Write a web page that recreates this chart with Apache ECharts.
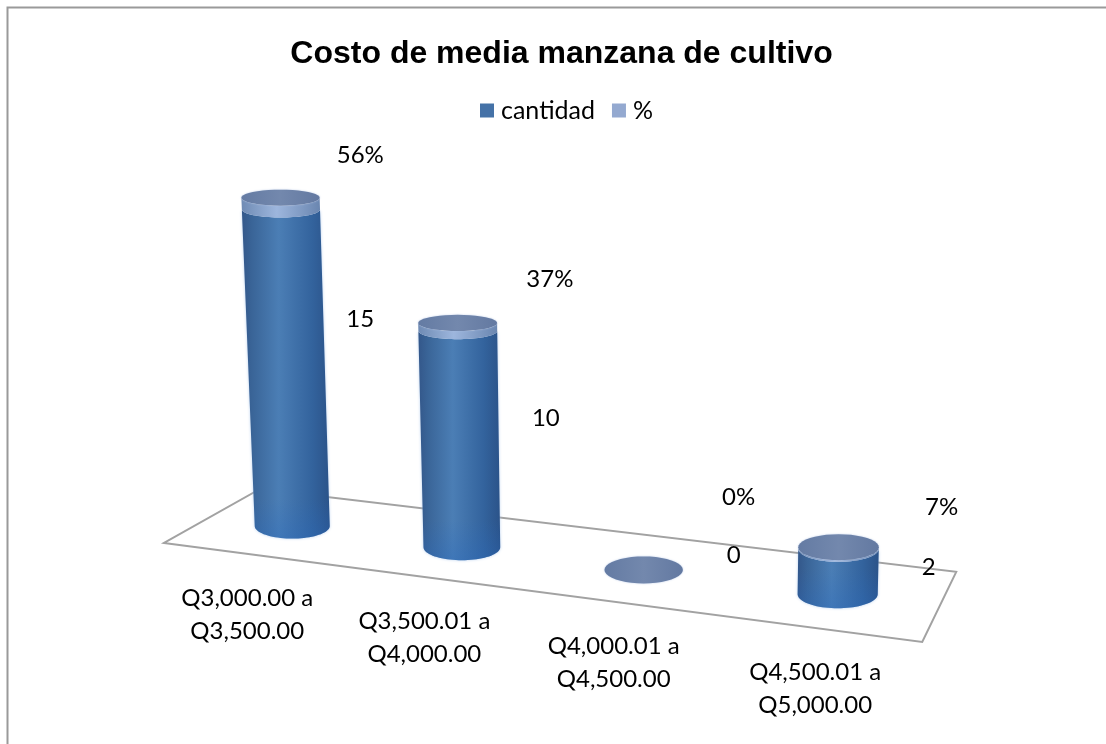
<!DOCTYPE html>
<html>
<head>
<meta charset="utf-8">
<style>html,body{margin:0;padding:0;background:#fff}#chart{width:1106px;height:744px}</style>
<script src="https://cdn.jsdelivr.net/npm/echarts@6/dist/echarts.min.js"></script>
</head>
<body>
<div id="chart"></div>
<script>
const titleText = 'Costo de media manzana de cultivo';
const categories = ['Q3,000.00 a\nQ3,500.00', 'Q3,500.01 a\nQ4,000.00', 'Q4,000.01 a\nQ4,500.00', 'Q4,500.01 a\nQ5,000.00'];
const cantidad = [15, 10, 0, 2];
const porcentaje = [0.56, 0.37, 0, 0.07];
const seriesNames = ['cantidad', '%'];

// hand-placed data label nudges, relative to each bar's foot on the floor
const cantidadNudge = [[68, -207], [84, -129], [90, -15], [91, -27]];
const porcentajeNudge = [[68, -371], [88, -268], [95, -73], [104, -87]];

const FONT = 'Lato, Carlito, "Noto Sans", sans-serif';
const grad = echarts.graphic.LinearGradient;

// Oblique view of the chart's floor, applied to what the axes return
function view(api) {
  const o = api.coord([0, 0]), step = api.coord([1, 0])[0] - o[0];
  const footX = u => o[0] - 9 + step * u * (0.896 + 0.0334 * u);
  const foot = u => { const x = footX(u); return [x, o[1] + (x - footX(0)) * 0.125]; };
  const depth = u => { const t = (u + 0.5) / 4; return [48 - 31 * t, -27 - 8 * t]; };
  const unit = (o[1] - api.coord([0, 1])[1]);
  // position of the ring at height v above the foot of category u
  const ring = (u, v) => {
    const f = foot(u), h = v * unit * (1 + 0.025 * u);
    const cx = f[0] + (f[0] - 650) * 0.0001 * h, cy = f[1] - h;
    return { cx, cy, rx: 37.5 + 0.85 * u + h * 0.005, ry: 8 + Math.max(0, cy - 320) * 0.022 };
  };
  return { foot, depth, ring };
}
function arc(r, a0, a1) {
  const pts = [];
  for (let k = 0; k <= 40; k++) {
    const a = a0 + (a1 - a0) * k / 40;
    pts.push([r.cx + r.rx * Math.cos(a), r.cy + r.ry * Math.sin(a)]);
  }
  return pts;
}
function sidePoints(lo, hi) {
  return arc(lo, Math.PI, 0).concat(arc(hi, 0, Math.PI));
}
const poly = (points, fill, extra) => ({ type: 'polygon', shape: { points }, style: Object.assign({ fill }, extra || {}), silent: true });
const label = (text, x, y, lh) => ({
  type: 'text', silent: true, z2: 20,
  style: { text, x, y, fill: '#000', fontFamily: FONT, fontSize: 24, lineHeight: lh || 28, textAlign: 'center', textVerticalAlign: 'middle' }
});

const bodyFill = () => new grad(0, 0, 1, 0, [
  { offset: 0, color: '#33578a' }, { offset: 0.12, color: '#3a6598' }, { offset: 0.42, color: '#4b7eb5' },
  { offset: 0.8, color: '#33639d' }, { offset: 1, color: '#2b5389' }]);
const bandFill = () => new grad(0, 0, 1, 0, [
  { offset: 0, color: '#6f8bb4' }, { offset: 0.45, color: '#9db6dd' }, { offset: 1, color: '#6a86b0' }]);

function renderFloor(params, api) {
  const v = view(api);
  const corner = (u, s) => { const f = v.foot(u), d = v.depth(u); return [f[0] + s * d[0], f[1] + s * d[1]]; };
  return poly([corner(-0.5, -1), corner(3.5, -1), corner(3.5, 1), corner(-0.5, 1)], 'none',
    { stroke: '#a2a2a2', lineWidth: 2 });
}
function renderCantidad(params, api) {
  const u = api.value(0), val = api.value(1), v = view(api);
  const lo = v.ring(u, 0), hi = v.ring(u, val), f = v.foot(u), children = [];
  if (val > 0) {
    const pts = sidePoints(lo, hi);
    children.push(poly(pts, bodyFill(), { shadowBlur: 3, shadowColor: 'rgba(150,185,230,0.7)' }));
    children.push(poly(pts, new grad(0, 0, 0, 1, [
      { offset: 0, color: 'rgba(40,105,190,0)' }, { offset: Math.max(0, 1 - 40 / (lo.cy - hi.cy + lo.ry)), color: 'rgba(40,105,190,0)' },
      { offset: 1, color: 'rgba(40,105,190,0.35)' }])));
  }
  const n = cantidadNudge[u];
  children.push(label(String(val), f[0] + n[0], f[1] + n[1]));
  children.push(label(categories[u], f[0] - 45 + 7.5 * u, f[1] + 89 + 2 * u, 33));
  return { type: 'group', children };
}
function renderPorcentaje(params, api) {
  const u = api.value(0), base = api.value(1), val = api.value(2), v = view(api);
  const lo = v.ring(u, base), hi = v.ring(u, base + val), f = v.foot(u), children = [];
  if (val > 0) children.push(poly(sidePoints(lo, hi), bandFill()));
  children.push(poly(arc(hi, 0, Math.PI * 2), new grad(0, 0, 1, 0, [
    { offset: 0, color: '#647ba3' }, { offset: 0.5, color: '#7388ad' }, { offset: 1, color: '#6379a1' }]),
    { shadowBlur: 2, shadowColor: 'rgba(170,190,225,0.8)' }));
  const n = porcentajeNudge[u];
  children.push(label(Math.round(val * 100) + '%', f[0] + n[0], f[1] + n[1]));
  return { type: 'group', children };
}

const chart = echarts.init(document.getElementById('chart'));
chart.setOption({
  animation: false,
  backgroundColor: '#fff',
  title: { text: titleText, left: 556.5, top: 33, textAlign: 'center', textStyle: { fontFamily: '"Liberation Sans", Arial, sans-serif', fontWeight: 'bold', fontSize: 32, color: '#000' } },
  legend: {
    top: 93, left: 475, itemWidth: 14, itemHeight: 14, itemGap: 17, selectedMode: false,
    data: seriesNames.map(name => ({ name, icon: 'rect' })),
    textStyle: { fontFamily: FONT, fontSize: 25, color: '#000', padding: [0, 0, 0, 2] }
  },
  graphic: [{ type: 'rect', z: -10, silent: true, shape: { x: 7.5, y: 7.5, width: 1300, height: 900 }, style: { fill: 'none', stroke: '#9a9a9a', lineWidth: 2 } }],
  grid: { left: 210, width: 730, bottom: 218, height: 422 },
  xAxis: { type: 'category', data: categories, show: false },
  yAxis: { type: 'value', min: 0, max: 20, show: false },
  series: [
    { type: 'custom', name: 'suelo', z: 1, renderItem: renderFloor, data: [[0]], silent: true, encode: { x: 0 } },
    { type: 'custom', name: seriesNames[0], z: 2, itemStyle: { color: '#4572a7' }, renderItem: renderCantidad,
      data: cantidad.map((c, i) => [i, c]), encode: { x: 0, y: 1 }, silent: true },
    { type: 'custom', name: seriesNames[1], z: 3, itemStyle: { color: '#94a9d0' }, renderItem: renderPorcentaje,
      data: porcentaje.map((p, i) => [i, cantidad[i], p]), encode: { x: 0, y: 1 }, silent: true }
  ]
});
</script>
</body>
</html>
